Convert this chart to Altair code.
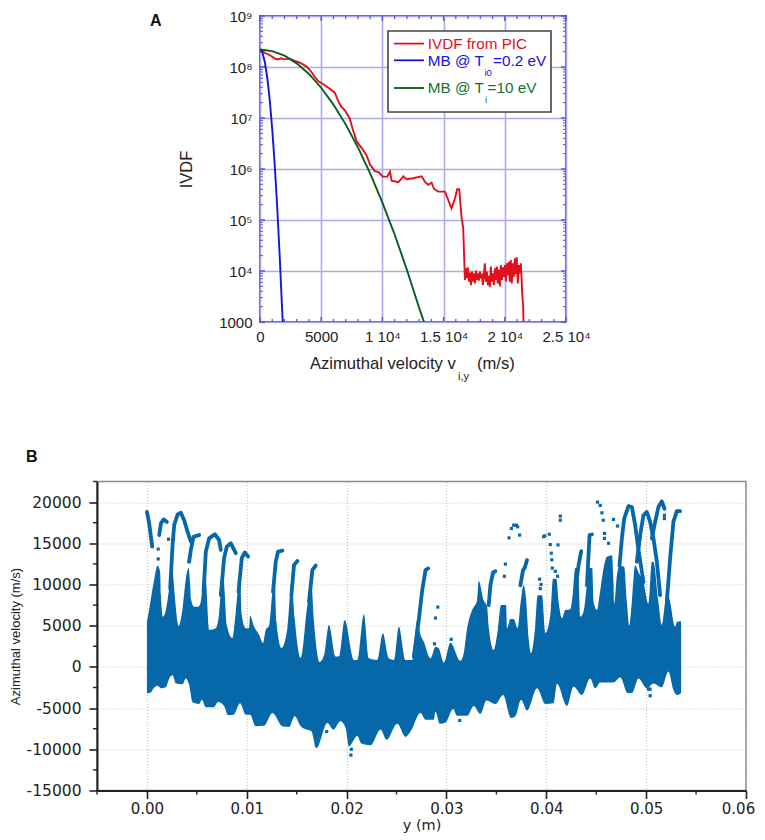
import altair as alt
import pandas as pd

# panel A: ion velocity distribution
ivdf_v = [0, 410, 820, 1220, 1440, 1710, 2040, 2450, 2860, 3260, 3810, 4220, 4490, 4760, 5170, 5710, 6120, 6390,
          6660, 6940, 7340, 7560, 7890, 8300, 8700, 8980, 9380, 9700, 10020, 10400, 10620, 10755, 11300, 11710,
          11980, 12520, 13200, 13480, 13750, 14020, 14210, 14560, 15110, 15380, 15650, 15920, 16110, 16280, 16470,
          16600, 16740, 16820, 16900, 16980, 17070, 17150, 17230, 17310, 17390, 17470, 17560, 17640, 17720, 17800,
          17880, 17960, 18050, 18130, 18210, 18290, 18370, 18450, 18530, 18620, 18700, 18780, 18860, 18940, 19020,
          19110, 19190, 19270, 19350, 19430, 19510, 19600, 19680, 19760, 19840, 19920, 20000, 20090, 20170, 20250,
          20330, 20410, 20490, 20570, 20660, 20740, 20820, 20900, 20980, 21060, 21150, 21230, 21310, 21390, 21420,
          21500, 21530, 21560]
ivdf_f = [2.2e8, 1.88e8, 1.7e8, 1.46e8, 1.41e8, 1.48e8, 1.41e8, 1.46e8, 1.31e8, 1.22e8, 1.02e8, 7.9e7, 6.3e7, 5.3e7,
          4.6e7, 3.76e7, 3.1e7, 2.14e7, 1.64e7, 1.41e7, 9.7e6, 6.2e6, 3.5e6, 2.6e6, 1.86e6, 1.23e6, 9.1e5, 8.7e5,
          7.1e5, 7.1e5, 8.9e5, 5.9e5, 5.5e5, 7.2e5, 6.3e5, 6.6e5, 7.2e5, 5.6e5, 4.9e5, 5.4e5, 4.1e5, 3.6e5, 3.6e5,
          2.45e5, 1.7e5, 2.6e5, 4.0e5, 4.0e5, 1.07e5, 7.2e4, 6700, 11300, 7200, 11800, 6200, 9300, 5300, 9700, 6200,
          9000, 5700, 10200, 6700, 9000, 6500, 9700, 7700, 8300, 5300, 8300, 14100, 6200, 9700, 5300, 8000, 4900,
          12200, 6200, 9000, 5300, 11300, 6700, 12200, 5700, 10500, 5000, 13100, 6700, 11800, 7700, 13100, 6200,
          14100, 8300, 15200, 6200, 16400, 5700, 14100, 7700, 17700, 8700, 18600, 5700, 13100, 9000, 14100, 5700,
          3630, 2000, 1000, 700]

mb_cold_v = [0, 200, 400, 600, 800, 1000, 1200, 1400, 1600, 1800, 1860, 1900]
mb_cold_f = [2.2e8, 1.9e8, 1.24e8, 6e7, 2.2e7, 6e6, 1.24e6, 1.9e5, 2.2e4, 1900, 1000, 600]
mb_hot_v = [0, 1000, 2000, 3000, 4000, 5000, 6000, 7000, 8000, 9000, 10000, 11000, 12000, 13000, 13400, 13700]
mb_hot_f = [2.2e8, 2.05e8, 1.67e8, 1.18e8, 7.3e7, 3.92e7, 1.83e7, 7.5e6, 2.66e6, 8.2e5, 2.2e5, 5.2e4, 1.06e4, 1900,
            1000, 600]

a_x_ticks = [0, 5000, 10000, 15000, 20000, 25000]
a_x_labels = ["0", "5000", "1 10⁴", "1.5 10⁴", "2 10⁴", "2.5 10⁴"]
a_x_minor = [v * 1000 for v in range(1, 25) if v % 5]
a_y_ticks = [1000, 10000, 100000, 1000000, 10000000, 100000000, 1000000000]
a_y_labels = ["1000", "10⁴", "10⁵", "10⁶", "10⁷", "10⁸", "10⁹"]
a_y_minor = [m * d for d in a_y_ticks[:-1] for m in range(2, 10)]

# panel B: envelope of the dense point cloud (x in m, velocity in m/s)
top_points = [(0, 5500), (.00007, 5900), (.0004, 8300), (.00073, 10600), (.00107, 12300), (.00133, 11500),
              (.0014, 8700), (.0016, 6100), (.0019, 6900), (.00223, 9500), (.00247, 11500), (.00263, 11000),
              (.00273, 9500), (.0029, 7100), (.00317, 5000), (.00357, 7100), (.0039, 10700), (.00417, 12000),
              (.00433, 10000), (.0044, 8300), (.00473, 7300), (.00513, 7300), (.0054, 7900), (.00573, 11000),
              (.0059, 11000), (.00597, 9500), (.00623, 4500), (.0069, 4700), (.00717, 5900), (.00757, 11000),
              (.00773, 10000), (.008, 5100), (.00857, 3500), (.0089, 6700), (.00933, 11000), (.0095, 6300),
              (.0099, 4700), (.01023, 4700), (.01033, 6200), (.01073, 4900), (.01123, 3900), (.01163, 2900),
              (.0119, 4500), (.01223, 5000), (.01257, 9100), (.0128, 10500), (.01297, 5500), (.01347, 2300),
              (.01407, 4700), (.0145, 10500), (.0148, 5900), (.0154, 1100), (.01607, 7500), (.01647, 10000),
              (.01673, 5500), (.0173, 600), (.01773, 1400), (.01823, 5080), (.0189, 1250), (.01923, 1250),
              (.0198, 5700), (.02073, 840), (.02107, 840), (.02173, 6400), (.02223, 1040), (.02307, 840),
              (.02363, 4070), (.02423, 1040), (.02473, 840), (.02523, 4880), (.0259, 840), (.02657, 840),
              (.02707, 5700), (.0274, 3900), (.02773, 3060), (.0284, 1040), (.0289, 2460), (.02923, 2260),
              (.02973, 520), (.0304, 2940), (.0314, 760), (.03173, 1650), (.03207, 4680), (.03257, 6900),
              (.03307, 8100), (.03323, 10450), (.03373, 8100), (.03407, 7300), (.03423, 4900), (.03473, 2050),
              (.03507, 3870), (.03547, 7500), (.03597, 7500), (.03607, 4700), (.0364, 5800), (.03673, 5800),
              (.03713, 4700), (.0374, 7500), (.03773, 9900), (.03797, 8300), (.03823, 3470), (.03847, 1650),
              (.0389, 5100), (.03913, 8700), (.03957, 8700), (.0399, 4100), (.0404, 6300), (.04067, 10700),
              (.041, 10700), (.04123, 7900), (.04157, 5900), (.0419, 6900), (.0424, 7000), (.04267, 9100),
              (.0429, 12000), (.0432, 12000), (.0434, 6100), (.04373, 6700), (.04407, 9900), (.04433, 12000),
              (.0446, 12000), (.04473, 7900), (.04507, 6900), (.04533, 8700), (.04573, 11950), (.04607, 13360),
              (.04657, 13560), (.04673, 10300), (.0468, 7700), (.04707, 11100), (.04733, 12270), (.0478, 12150),
              (.04807, 7900), (.0483, 5000), (.04857, 7900), (.0489, 12350), (.04923, 11500), (.04973, 10300),
              (.05023, 7700), (.05057, 12750), (.05073, 12750), (.05123, 7900), (.05157, 5100), (.0519, 7900),
              (.05207, 9300), (.0524, 7900), (.0529, 4900), (.05313, 5500), (.0535, 5500)]
bottom_points = [(0, -3200), (.0004, -3100), (.00067, -2600), (.00107, -2300), (.0014, -2600), (.0019, -2470),
                 (.00223, -1400), (.00257, -1000), (.0029, -2000), (.00357, -2100), (.0039, -1400), (.00423, -2200),
                 (.00457, -4300), (.00523, -4500), (.0055, -4000), (.0059, -4900), (.00667, -4900), (.00713, -4250),
                 (.00773, -4750), (.00813, -5860), (.00867, -5800), (.00933, -4400), (.0099, -5800), (.01033, -5800),
                 (.0109, -7200), (.01173, -7150), (.01257, -5600), (.01357, -7200), (.01423, -7300), (.0148, -6000),
                 (.0154, -7200), (.016, -7600), (.01647, -7800), (.01697, -9850), (.01807, -6800), (.01867, -7600),
                 (.0194, -6600), (.0199, -7400), (.02023, -9650), (.02107, -8400), (.02147, -9300), (.0224, -9500),
                 (.0234, -7600), (.024, -8850), (.02507, -6900), (.0259, -8500), (.0264, -7850), (.0274, -5600),
                 (.0279, -6400), (.02873, -6400), (.0289, -5400), (.02933, -6900), (.0299, -6750), (.03067, -5100),
                 (.03107, -5940), (.03207, -5940), (.03273, -4730), (.0334, -5700), (.034, -4080), (.0349, -4500),
                 (.03567, -3400), (.03647, -6200), (.0369, -6000), (.03747, -4000), (.03807, -5300), (.03907, -2600),
                 (.0399, -4500), (.04073, -4400), (.04107, -2060), (.04207, -4730), (.04273, -2400), (.04357, -3400),
                 (.0444, -1400), (.0449, -2600), (.0454, -1900), (.04673, -1900), (.0474, -1260), (.04817, -3200),
                 (.0486, -3150), (.04923, -1400), (.05007, -2600), (.05073, -2000), (.05157, -2470), (.05223, -570),
                 (.05273, -2800), (.05307, -3400), (.0535, -3200)]

# the thin arcs rising out of the cloud
arc_paths = [[(.0, 18800), (.00023, 17400), (.0004, 15800), (.00053, 14600)],
             [(.00123, 16000), (.0014, 17400), (.00167, 17900), (.002, 17600)],
             [(.00233, 9500), (.00257, 14800), (.00273, 17200), (.00307, 18500), (.0034, 18700), (.00373, 17800),
              (.00407, 16400), (.0044, 15200)],
             [(.00423, 12800), (.0044, 14200), (.00467, 15800), (.00523, 16000)],
             [(.00567, 9100), (.0059, 14000), (.00623, 15600), (.0068, 16100), (.00723, 15400), (.0074, 14200)],
             [(.0074, 8700), (.00773, 13200), (.008, 14600), (.0084, 15000), (.0089, 13800)],
             [(.00917, 9100), (.0095, 13200), (.0098, 13900), (.01013, 13400)],
             [(.01263, 9100), (.0129, 12750), (.01313, 14000), (.01357, 14100)],
             [(.01447, 8700), (.01473, 12350), (.01507, 12850)],
             [(.01623, 7900), (.01657, 11750), (.0169, 12300)],
             [(.02673, 1250), (.02723, 5700), (.02757, 9300), (.0279, 11750), (.02817, 11950)],
             [(.03423, 7500), (.0344, 9900), (.03467, 11460), (.0349, 11600)],
             [(.0374, 9900), (.03767, 11750), (.03783, 12000), (.03807, 12960)],
             [(.0429, 9100), (.04323, 12350), (.0435, 14050)],
             [(.04407, 9900), (.04433, 16000), (.04457, 16070)],
             [(.04733, 12300), (.04757, 15600), (.0478, 18000), (.04823, 19500), (.04857, 19400), (.0489, 17200),
              (.04923, 14200), (.04973, 10300)],
             [(.04907, 12750), (.0494, 16000), (.04973, 18400), (.05007, 18800), (.0504, 17600), (.05073, 15600),
              (.05107, 12750), (.0514, 8700)],
             [(.05057, 15600), (.0509, 17600), (.05123, 19400), (.05157, 20100), (.05183, 19200)],
             [(.05207, 7900), (.0524, 13160), (.05273, 17600), (.05307, 18900), (.0534, 18900)]]

# stray points
dot_points = [(.00113, 14300), (.00113, 13100), (.00217, 15500), (.00423, 12750), (.02913, 7260), (.0289, 5930),
              (.0288, 2800), (.03047, 3350), (.0359, 12470), (.0358, 11000), (.03627, 15660), (.0365, 16800),
              (.03673, 17200), (.037, 17200), (.03713, 17000), (.03733, 16000), (.03933, 10650), (.03947, 10000),
              (.0394, 9500), (.03973, 15800), (.03985, 15900), (.0403, 16100), (.04117, 14800), (.0414, 18300),
              (.0414, 17800), (.0404, 14850), (.0405, 13800), (.04055, 13000), (.0406, 12000), (.0409, 11600),
              (.04113, 11000), (.04513, 20000), (.0454, 19600), (.04557, 18700), (.0457, 17800), (.04583, 16200),
              (.04583, 15600), (.04623, 15000), (.04673, 17900), (.04713, 17100), (.05183, 18400), (.05183, 18000),
              (.02047, -10000), (.02043, -10700), (.018, -7850), (.03133, -6500), (.05023, -2700), (.0504, -2700),
              (.0504, -3500)]

b_x_ticks = [0, .01, .02, .03, .04, .05, .06]
b_x_minor = [-.005, .005, .015, .025, .035, .045, .055]
b_y_ticks = [-15000, -10000, -5000, 0, 5000, 10000, 15000, 20000]
b_y_minor = [-12500, -7500, -2500, 2500, 7500, 12500, 17500, 22500]

ARIAL = "Liberation Sans"
WIDE = "DejaVu Sans"
A_W, A_H = 306, 306
B_W, B_H = 649, 309
GRID_BLUE = "#aaaaf0"
FRAME_BLUE = "#5050e4"
CLOUD = "#0667a9"

blank = pd.DataFrame({"a": [0]})


def note(text, x, y, color="#222222", size=15, font=ARIAL, **kw):
    return alt.Chart(blank).mark_text(text=text, color=color, fontSize=size, font=font, align="left",
                                      baseline="middle", **kw).encode(x=alt.value(x), y=alt.value(y))


def line_label_expr(values, labels):
    pairs = ", ".join(f"'{v}': '{t}'" for v, t in zip(values, labels))
    return "{" + pairs + "}['' + datum.value]"


a_x_scale = alt.Scale(domain=[0, 25000])
a_y_scale = alt.Scale(type="log", domain=[1e3, 1e9], base=10)
a_x_enc = alt.X("v:Q", scale=a_x_scale, axis=alt.Axis(
    values=a_x_ticks, title=None, ticks=False, domain=False, grid=True, gridColor=GRID_BLUE, gridWidth=1.6,
    labelExpr=line_label_expr(a_x_ticks, a_x_labels), labelFont=ARIAL, labelFontSize=15, labelColor="#222222",
    labelPadding=7, labelFlush=False, labelOverlap=False))
a_y_enc = alt.Y("f:Q", scale=a_y_scale, axis=alt.Axis(
    values=a_y_ticks, title="IVDF", titleFont=ARIAL, titleFontSize=16.5, titleFontWeight="normal",
    titleColor="#222222", titlePadding=24, ticks=False, domain=False, grid=True, gridColor=GRID_BLUE, gridWidth=1.6,
    labelExpr=line_label_expr(a_y_ticks, a_y_labels), labelFont=ARIAL, labelFontSize=15, labelColor="#222222",
    labelPadding=8, labelOverlap=False, labelFlush=False))


def curve(vs, fs, color):
    return alt.Chart(pd.DataFrame({"v": vs, "f": fs})).mark_line(color=color, strokeWidth=1.9, clip=True).encode(
        x=a_x_enc, y=a_y_enc)


def a_x_marks(values, length, width):
    d = pd.DataFrame({"v": values})
    base = alt.Chart(d).mark_rule(color=FRAME_BLUE, strokeWidth=width)
    return (base.encode(x=a_x_enc, y=alt.value(A_H), y2=alt.value(A_H - length))
            + base.encode(x=a_x_enc, y=alt.value(0), y2=alt.value(length)))


def a_y_marks(values, length, width):
    d = pd.DataFrame({"f": values})
    base = alt.Chart(d).mark_rule(color=FRAME_BLUE, strokeWidth=width)
    return (base.encode(y=a_y_enc, x=alt.value(0), x2=alt.value(length))
            + base.encode(y=a_y_enc, x=alt.value(A_W), x2=alt.value(A_W - length)))


legend_box = alt.Chart(blank).mark_rect(fill="white", stroke="#444444", strokeWidth=1.6).encode(
    x=alt.value(128), x2=alt.value(291), y=alt.value(15), y2=alt.value(96))


def legend_line(y, color):
    return alt.Chart(blank).mark_rule(color=color, strokeWidth=1.8).encode(
        x=alt.value(134), x2=alt.value(164), y=alt.value(y), y2=alt.value(y))


RED, BLUE, GREEN, DARK_GREEN = "#e2101a", "#1414e0", "#157033", "#0b5a1f"

panel_a = alt.layer(
    curve(ivdf_v, ivdf_f, RED),
    a_x_marks(a_x_ticks, 5, 1.4), a_x_marks(a_x_minor, 3, 1.2),
    a_y_marks(a_y_ticks, 5, 1.4), a_y_marks(a_y_minor, 3, 1),
    curve(mb_cold_v, mb_cold_f, BLUE),
    curve(mb_hot_v, mb_hot_f, DARK_GREEN),
    legend_box,
    legend_line(27.6, RED), note("IVDF from PIC", 167.7, 28, RED, 15.3),
    legend_line(44.3, BLUE), note("MB @ T", 167.7, 44.5, BLUE, 15.3), note("i0", 224.5, 56.6, BLUE, 9.5),
    note("=0.2 eV", 233, 44.5, BLUE, 15.3),
    legend_line(72, DARK_GREEN), note("MB @ T", 167.7, 72, GREEN, 15.3), note("i", 225, 84.3, GREEN, 9.5),
    note("=10 eV", 227.5, 72, GREEN, 15.3),
    note("A", -110, 5, "#111111", 16, fontWeight="bold"),
    note("Azimuthal velocity v", 50, 348, size=16.6), note("i,y", 198, 361, size=11),
    note("(m/s)", 217, 348, size=16.6),
).properties(width=A_W, height=A_H, view=alt.ViewConfig(stroke=FRAME_BLUE, strokeWidth=2))

b_x_scale = alt.Scale(domain=[-.005, .06])
b_y_scale = alt.Scale(domain=[-15000, 22500])
axis_common = dict(
    domainColor="#222222", domainWidth=2, tickColor="#222222", tickWidth=1.6, tickSize=8, grid=True,
    gridColor="#c4c4c4", gridDash=[1, 2], gridWidth=1.2, labelFont=WIDE, labelColor="#222222",
    labelFlush=False, labelOverlap=False, titleFontWeight="normal", titleColor="#222222")
# last x label nudged in so the page stays inside the 765 px window
b_x_enc = alt.X("y:Q", scale=b_x_scale, axis=alt.Axis(
    values=b_x_ticks, format=".2f", title="y (m)", titleFont=WIDE, titleFontSize=14.5, titlePadding=2, labelPadding=3,
    labelFontSize=15, labelOffset={"condition": {"test": "datum.value > 0.055", "value": -8}, "value": 0},
    **axis_common))
b_y_enc = alt.Y("v:Q", scale=b_y_scale, axis=alt.Axis(
    values=b_y_ticks, labelExpr="datum.value < 0 ? '-' + abs(datum.value) : '' + datum.value",
    title="Azimuthal velocity (m/s)", titleFont=ARIAL, titleFontSize=13, titlePadding=4,
    labelPadding=8, labelFontSize=15.5, **axis_common))

# top area runs a little below zero so no seam shows where the two areas meet
top_frame = pd.DataFrame(top_points, columns=["y", "v"]).assign(z=-400)
bottom_frame = pd.DataFrame(bottom_points, columns=["y", "v"]).assign(z=0)
band_top = alt.Chart(top_frame).mark_area(color=CLOUD, interpolate="monotone").encode(
    x=b_x_enc, y=b_y_enc, y2=alt.Y2("z:Q"))
band_bottom = alt.Chart(bottom_frame).mark_area(color=CLOUD, interpolate="monotone").encode(
    x=b_x_enc, y=b_y_enc, y2=alt.Y2("z:Q"))

arc_rows = pd.DataFrame([{"arc": i, "y": y, "v": v, "o": j}
                         for i, path in enumerate(arc_paths)
                         for j, (y, v) in enumerate(path)])
arcs = alt.Chart(arc_rows).mark_line(color=CLOUD, strokeWidth=3.8, strokeCap="round", strokeJoin="round").encode(
    x=b_x_enc, y=b_y_enc, detail="arc:N", order="o:Q")
dots = alt.Chart(pd.DataFrame(dot_points, columns=["y", "v"])).mark_square(color=CLOUD, size=10, opacity=1).encode(
    x=b_x_enc, y=b_y_enc)
minor_x = alt.Chart(pd.DataFrame({"y": b_x_minor})).mark_rule(color="#222222", strokeWidth=1.4).encode(
    x=b_x_enc, y=alt.value(B_H), y2=alt.value(B_H + 4))
minor_y = alt.Chart(pd.DataFrame({"v": b_y_minor})).mark_rule(color="#222222", strokeWidth=1.4).encode(
    y=b_y_enc, x=alt.value(0), x2=alt.value(-4))

panel_b = alt.layer(
    band_top, band_bottom, arcs, dots, minor_x, minor_y,
    note("B", -71, -25, "#111111", 16, fontWeight="bold"),
).properties(width=B_W, height=B_H, view=alt.ViewConfig(stroke="#8a8a8a", strokeWidth=1.6))

spacer = alt.Chart(blank).mark_point(opacity=0).encode(
    x=alt.X("a:Q", axis=None), y=alt.Y("a:Q", axis=None)
).properties(width=163, height=10, view=alt.ViewConfig(stroke="transparent"))

# with flush bounds the nested row counts as zero height, so spacing carries panel A's height too
chart = alt.vconcat(
    alt.hconcat(spacer, panel_a, spacing=0, bounds="flush"),
    panel_b,
    spacing=465.5,
    bounds="flush",
).properties(padding={"left": 0, "right": 0, "top": 0, "bottom": 0})

chart.save("out.html", embed_options={"renderer": "svg", "actions": False})
